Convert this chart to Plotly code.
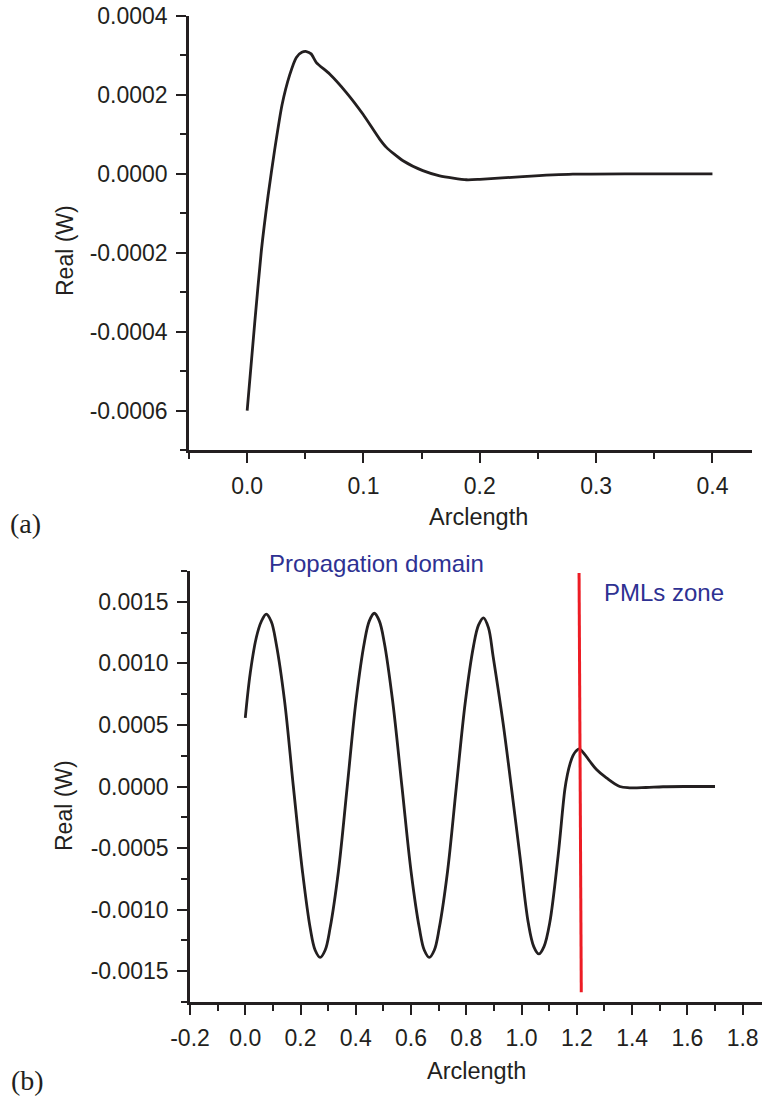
import plotly.graph_objects as go

# (a) real part of the power flow along the arclength
arc_a = [0.0, 0.0064, 0.0122, 0.018, 0.0236, 0.030, 0.0365, 0.0423, 0.047, 0.051, 0.055,
         0.0595, 0.0709, 0.0853, 0.0996, 0.1139, 0.1197, 0.134, 0.151, 0.1655, 0.1885,
         0.20, 0.237, 0.28, 0.33, 0.40]
real_a = [-6.0e-4, -3.81e-4, -1.95e-4, -0.55e-4, 0.60e-4, 1.75e-4, 2.50e-4, 2.95e-4, 3.08e-4,
          3.10e-4, 3.04e-4, 2.82e-4, 2.53e-4, 2.06e-4, 1.51e-4, 0.88e-4, 0.67e-4, 0.33e-4,
          0.08e-4, -0.05e-4, -0.15e-4, -0.14e-4, -0.07e-4, -0.01e-4, 0.0, 0.0]

# (b) propagation domain + PML zone
arc_b = [0.0, 0.018, 0.040, 0.058, 0.076, 0.094, 0.112, 0.142, 0.174, 0.207, 0.235, 0.253,
         0.271, 0.289, 0.307, 0.337, 0.369, 0.401, 0.431, 0.449, 0.467, 0.485, 0.503, 0.533,
         0.567, 0.600, 0.630, 0.648, 0.666, 0.684, 0.702, 0.732, 0.764, 0.796, 0.826, 0.844,
         0.862, 0.880, 0.897, 0.933, 0.964, 0.994, 1.024, 1.044, 1.0625, 1.081, 1.102, 1.132,
         1.1565, 1.166, 1.176, 1.186, 1.196, 1.208, 1.225, 1.247, 1.271, 1.307, 1.355, 1.391,
         1.45, 1.512, 1.60, 1.70]
real_b = [0.557e-3, 0.921e-3, 1.21e-3, 1.34e-3, 1.40e-3, 1.34e-3, 1.16e-3, 0.70e-3, 0.0,
          -0.69e-3, -1.15e-3, -1.33e-3, -1.388e-3, -1.33e-3, -1.15e-3, -0.69e-3, 0.0, 0.70e-3,
          1.17e-3, 1.345e-3, 1.407e-3, 1.345e-3, 1.17e-3, 0.70e-3, 0.0, -0.69e-3, -1.15e-3,
          -1.33e-3, -1.388e-3, -1.33e-3, -1.15e-3, -0.69e-3, 0.0, 0.68e-3, 1.14e-3, 1.31e-3,
          1.37e-3, 1.29e-3, 1.056e-3, 0.516e-3, -0.024e-3, -0.565e-3, -1.105e-3, -1.30e-3,
          -1.36e-3, -1.30e-3, -1.105e-3, -0.565e-3, -0.024e-3, 0.10e-3, 0.19e-3, 0.25e-3,
          0.285e-3, 0.305e-3, 0.27e-3, 0.205e-3, 0.138e-3, 0.07e-3, 0.0, -0.0105e-3,
          -0.008e-3, -0.002e-3, 0.0, 0.0]

# red marker line at the PML interface
pml_x = [1.208, 1.216]
pml_y = [0.001734, -0.00167]

# tick labels
xa_vals = [0.0, 0.1, 0.2, 0.3, 0.4]
xa_text = ["0.0", "0.1", "0.2", "0.3", "0.4"]
ya_vals = [-0.0006, -0.0004, -0.0002, 0.0, 0.0002, 0.0004]
ya_text = ["-0.0006", "-0.0004", "-0.0002", "0.0000", "0.0002", "0.0004"]
xb_vals = [-0.2, 0.0, 0.2, 0.4, 0.6, 0.8, 1.0, 1.2, 1.4, 1.6, 1.8]
xb_text = ["-0.2", "0.0", "0.2", "0.4", "0.6", "0.8", "1.0", "1.2", "1.4", "1.6", "1.8"]
yb_vals = [-0.0015, -0.0010, -0.0005, 0.0, 0.0005, 0.0010, 0.0015]
yb_text = ["-0.0015", "-0.0010", "-0.0005", "0.0000", "0.0005", "0.0010", "0.0015"]

W, H = 763, 1099
ink = "#231f20"
blue = "#2e3192"
sans = "Liberation Sans, Arial, sans-serif"
serif = "Liberation Serif, Times New Roman, serif"

fig = go.Figure()
fig.add_trace(go.Scatter(x=arc_a, y=real_a, mode="lines", xaxis="x", yaxis="y",
                         line=dict(color=ink, width=2.8, shape="spline", smoothing=0.6)))
fig.add_trace(go.Scatter(x=arc_b, y=real_b, mode="lines", xaxis="x2", yaxis="y2",
                         line=dict(color=ink, width=2.8, shape="spline", smoothing=1.0)))
fig.add_trace(go.Scatter(x=pml_x, y=pml_y, mode="lines", xaxis="x2", yaxis="y2",
                         line=dict(color="#ed1c24", width=3)))


def axis_style(vals, text, minor_dtick, rng, domain, anchor):
    return dict(range=rng, domain=domain, anchor=anchor, tickvals=vals, ticktext=text,
                automargin=False, ticks="outside", ticklen=10, tickwidth=2, tickcolor=ink,
                showline=True, linewidth=2.5, linecolor=ink,
                showgrid=False, zeroline=False, ticklabelstandoff=4,
                tickfont=dict(family=sans, size=23, color=ink),
                minor=dict(dtick=minor_dtick, tick0=0, ticks="outside", ticklen=6,
                           tickwidth=2, tickcolor=ink, showgrid=False))


fig.update_layout(
    width=W, height=H, margin=dict(l=0, r=0, t=0, b=0),
    paper_bgcolor="white", plot_bgcolor="white", showlegend=False,
    xaxis=axis_style(xa_vals, xa_text, 0.05, [-0.05, 0.434], [189 / W, 752 / W], "y"),
    yaxis=axis_style(ya_vals, ya_text, 0.0001, [-0.0007, 0.0004],
                     [1 - 450 / H, 1 - 16 / H], "x"),
    xaxis2=axis_style(xb_vals, xb_text, 0.1, [-0.2, 1.87], [190 / W, 762 / W], "y2"),
    yaxis2=axis_style(yb_vals, yb_text, 0.00025, [-0.00175, 0.00175],
                      [1 - 1002 / H, 1 - 571 / H], "x2"),
)

def paper_text(txt, px, py, size, color=ink, family=sans, angle=0):
    fig.add_annotation(text=txt, x=px / W, y=1 - py / H, xref="paper", yref="paper",
                       showarrow=False, textangle=angle, xanchor="center", yanchor="middle",
                       font=dict(family=family, size=size, color=color))


# axis titles and panel labels
paper_text("Real (W)", 65, 251, 23, angle=-90)
paper_text("Arclength", 478, 517, 23.5)
paper_text("(a)", 25, 523, 28, family=serif)
paper_text("Real (W)", 64, 806, 23, angle=-90)
paper_text("Arclength", 477, 1071, 23.5)
paper_text("(b)", 27, 1080, 28, family=serif)
paper_text("Propagation domain", 376, 563, 24, color=blue)
paper_text("PMLs zone", 664, 592, 24, color=blue)

# drop the default page margin so the figure sits flush in the window
fig.write_html("out.html", config={"displayModeBar": False},
               post_script="document.body.style.margin='0';"
               "document.body.style.overflow='hidden';")
